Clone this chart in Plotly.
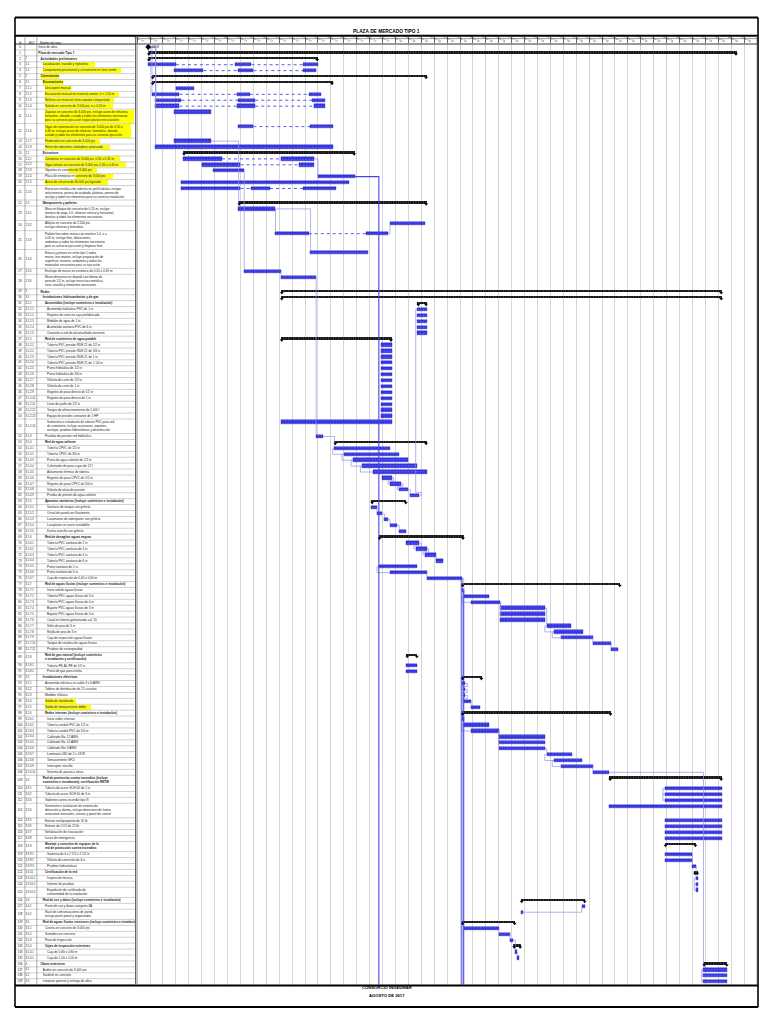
import math
import textwrap
import plotly.graph_objects as go

PAGE_W, PAGE_H = 768, 1024
BODY_MARGIN = 8  # default page margin of the html body
FIG_W, FIG_H = PAGE_W - 2 * BODY_MARGIN, PAGE_H - 2 * BODY_MARGIN

# ---------------- DATA ----------------
week_labels = [
    "20 ago '17", "27 ago '17", "03 sep '17", "10 sep '17", "17 sep '17", "24 sep '17",
    "01 oct '17", "08 oct '17", "15 oct '17", "22 oct '17", "29 oct '17", "05 nov '17",
    "12 nov '17", "19 nov '17", "26 nov '17", "03 dic '17", "10 dic '17", "17 dic '17",
    "24 dic '17", "31 dic '17", "07 ene '18", "14 ene '18", "21 ene '18", "28 ene '18",
    "04 feb '18", "11 feb '18", "18 feb '18", "25 feb '18", "04 mar '18", "11 mar '18",
    "18 mar '18", "25 mar '18", "01 abr '18", "08 abr '18", "15 abr '18", "22 abr '18",
    "29 abr '18", "06 may '18", "13 may '18", "20 may '18", "27 may '18", "03 jun '18",
    "10 jun '18", "17 jun '18", "24 jun '18", "01 jul '18", "08 jul '18", "15 jul '18",
]

wbs_codes = [
    "", "", "1", "1.1", "1.2", "2", "2.1", "2.1.1", "2.1.2", "2.1.3",
    "2.1.4", "2.1.5", "2.1.6", "2.1.7", "2.1.8", "2.2", "2.2.1", "2.2.2", "2.2.3", "2.2.4",
    "2.2.5", "2.2.6", "2.3", "2.3.1", "2.3.2", "2.3.3", "2.3.4", "2.3.5", "2.3.6", "3",
    "3.1", "3.1.1", "3.1.1.1", "3.1.1.2", "3.1.1.3", "3.1.1.4", "3.1.1.5", "3.1.2", "3.1.2.1", "3.1.2.2",
    "3.1.2.3", "3.1.2.4", "3.1.2.5", "3.1.2.6", "3.1.2.7", "3.1.2.8", "3.1.2.9", "3.1.2.10", "3.1.2.11", "3.1.2.12",
    "3.1.2.13", "3.1.2.14", "3.1.3", "3.1.4", "3.1.4.1", "3.1.4.2", "3.1.4.3", "3.1.4.4", "3.1.4.5", "3.1.4.6",
    "3.1.4.7", "3.1.4.8", "3.1.4.9", "3.1.5", "3.1.5.1", "3.1.5.2", "3.1.5.3", "3.1.5.4", "3.1.5.5", "3.1.6",
    "3.1.6.1", "3.1.6.2", "3.1.6.3", "3.1.6.4", "3.1.6.5", "3.1.6.6", "3.1.6.7", "3.1.7", "3.1.7.1", "3.1.7.2",
    "3.1.7.3", "3.1.7.4", "3.1.7.5", "3.1.7.6", "3.1.7.7", "3.1.7.8", "3.1.7.9", "3.1.7.10", "3.1.7.11", "3.1.8",
    "3.1.8.1", "3.1.8.2", "3.2", "3.2.1", "3.2.2", "3.2.3", "3.2.4", "3.2.5", "3.2.6", "3.2.6.1",
    "3.2.6.2", "3.2.6.3", "3.2.6.4", "3.2.6.5", "3.2.6.6", "3.2.6.7", "3.2.6.8", "3.2.6.9", "3.2.6.10", "3.3",
    "3.3.1", "3.3.2", "3.3.3", "3.3.4", "3.3.5", "3.3.6", "3.3.7", "3.3.8", "3.3.9", "3.3.9.1",
    "3.3.9.2", "3.3.9.3", "3.3.10", "3.3.10.1", "3.3.10.2", "3.3.10.3", "3.4", "3.4.1", "3.4.2", "3.5",
    "3.5.1", "3.5.2", "3.5.3", "3.5.4", "3.5.4.1", "3.5.4.2", "4", "4.1", "4.2", "4.3",
]

task_names = [
    "Inicio de obra",
    "Plaza de mercado Tipo 1",
    "Actividades preliminares",
    "Localización, trazado y replanteo",
    "Campamento provisional y cerramiento en lona verde",
    "Cimentación",
    "Excavaciones",
    "Descapote manual",
    "Excavación manual en material común, h < 1,50 m",
    "Relleno con material seleccionado compactado",
    "Solado en concreto de 2.000 psi, e = 0,05 m",
    "Zapatas en concreto de 3.000 psi, incluye acero de refuerzo, formaleta, vibrado, curado y todos los elementos necesarios para su correcta ejecución según planos estructurales",
    "Vigas de cimentación en concreto de 3.000 psi de 0,30 x 0,40 m, incluye acero de refuerzo, formaleta, vibrado, curado y todos los elementos para su correcta ejecución",
    "Pedestales en concreto de 3.000 psi",
    "Retiro de sobrantes a botadero autorizado",
    "Estructura",
    "Columnas en concreto de 3.000 psi, 0,30 x 0,30 m",
    "Vigas aéreas en concreto de 3.000 psi, 0,30 x 0,40 m",
    "Viguetas en concreto de 3.000 psi",
    "Placa de entrepiso en concreto de 3.000 psi",
    "Acero de refuerzo de 60.000 psi figurado",
    "Estructura metálica de cubierta en perfil tubular, incluye anticorrosivo, pintura de acabado, platinas, pernos de anclaje y todos los elementos para su correcta instalación",
    "Mampostería y pañetes",
    "Muro en bloque de concreto de 0,15 m, incluye mortero de pega 1:4, refuerzo vertical y horizontal, dovelas y todos los elementos necesarios",
    "Alfajías en concreto de 2.500 psi, incluye refuerzo y formaleta",
    "Pañete liso sobre muros con mortero 1:4, e = 0,02 m, incluye filos, dilataciones, andamios y todos los elementos necesarios para su correcta ejecución y limpieza final",
    "Estuco y pintura en vinilo tipo 1 sobre muros, tres manos, incluye preparación de superficie, resanes, andamios y todos los materiales necesarios para su ejecución",
    "Enchape de muros en cerámica de 0,20 x 0,30 m",
    "Muros divisorios en drywall con lámina de yeso de 1/2 in, incluye estructura metálica, cinta, masilla y elementos necesarios",
    "Redes",
    "Instalaciones hidrosanitarias y de gas",
    "Acometidas (incluye suministro e instalación)",
    "Acometida hidráulica PVC de 1 in",
    "Registro de corte en caja prefabricada",
    "Medidor de agua de 1 in",
    "Acometida sanitaria PVC de 6 in",
    "Conexión a red de alcantarillado existente",
    "Red de suministro de agua potable",
    "Tubería PVC presión RDE 21 de 1/2 in",
    "Tubería PVC presión RDE 21 de 3/4 in",
    "Tubería PVC presión RDE 21 de 1 in",
    "Tubería PVC presión RDE 21 de 1 1/4 in",
    "Punto hidráulico de 1/2 in",
    "Punto hidráulico de 3/4 in",
    "Válvula de corte de 1/2 in",
    "Válvula de corte de 1 in",
    "Registro de paso directo de 1/2 in",
    "Registro de paso directo de 1 in",
    "Llave de jardín de 1/2 in",
    "Tanque de almacenamiento de 1.000 l",
    "Equipo de presión constante de 1 HP",
    "Suministro e instalación de tubería PVC para red de suministro, incluye accesorios, soportes, anclajes, pruebas hidrostáticas y desinfección",
    "Pruebas de presión red hidráulica",
    "Red de agua caliente",
    "Tubería CPVC de 1/2 in",
    "Tubería CPVC de 3/4 in",
    "Punto de agua caliente de 1/2 in",
    "Calentador de paso a gas de 12 l",
    "Aislamiento térmico de tubería",
    "Registro de paso CPVC de 1/2 in",
    "Registro de paso CPVC de 3/4 in",
    "Válvula de alivio de presión",
    "Prueba de presión de agua caliente",
    "Aparatos sanitarios (incluye suministro e instalación)",
    "Sanitario de tanque con grifería",
    "Orinal de pared con fluxómetro",
    "Lavamanos de sobreponer con grifería",
    "Lavaplatos en acero inoxidable",
    "Ducha sencilla con grifería",
    "Red de desagües aguas negras",
    "Tubería PVC sanitaria de 2 in",
    "Tubería PVC sanitaria de 3 in",
    "Tubería PVC sanitaria de 4 in",
    "Tubería PVC sanitaria de 6 in",
    "Punto sanitario de 2 in",
    "Punto sanitario de 4 in",
    "Caja de inspección de 0,60 x 0,60 m",
    "Red de aguas lluvias (incluye suministro e instalación)",
    "Inicio red de aguas lluvias",
    "Tubería PVC aguas lluvias de 3 in",
    "Tubería PVC aguas lluvias de 4 in",
    "Bajante PVC aguas lluvias de 3 in",
    "Bajante PVC aguas lluvias de 4 in",
    "Canal en lámina galvanizada cal. 20",
    "Sifón de piso de 3 in",
    "Rejilla de piso de 3 in",
    "Caja de inspección aguas lluvias",
    "Tanque de recolección aguas lluvias",
    "Pruebas de estanqueidad",
    "Red de gas natural (incluye suministro e instalación y certificación)",
    "Tubería PE-AL-PE de 1/2 in",
    "Punto de gas para estufa",
    "Instalaciones eléctricas",
    "Acometida eléctrica en cable 3 x 6 AWG",
    "Tablero de distribución de 12 circuitos",
    "Medidor trifásico",
    "Salida de alumbrado",
    "Salida de tomacorriente doble",
    "Redes internas (incluye suministro e instalación)",
    "Inicio redes internas",
    "Tubería conduit PVC de 1/2 in",
    "Tubería conduit PVC de 3/4 in",
    "Cableado No. 12 AWG",
    "Cableado No. 10 AWG",
    "Cableado No. 8 AWG",
    "Luminaria LED de 2 x 18 W",
    "Tomacorriente GFCI",
    "Interruptor sencillo",
    "Sistema de puesta a tierra",
    "Red de protección contra incendios (incluye suministro e instalación), certificación RETIE",
    "Tubería de acero SCH 40 de 2 in",
    "Tubería de acero SCH 40 de 3 in",
    "Gabinete contra incendio tipo III",
    "Suministro e instalación de sistema de detección y alarma, incluye detectores de humo, estaciones manuales, sirenas y panel de control",
    "Extintor multipropósito de 20 lb",
    "Extintor de CO2 de 15 lb",
    "Señalización de evacuación",
    "Luces de emergencia",
    "Montaje y conexión de equipos de la red de protección contra incendios",
    "Siamesa de 4 x 2 1/2 x 2 1/2 in",
    "Válvula de retención de 4 in",
    "Pruebas hidrostáticas",
    "Certificación de la red",
    "Inspección técnica",
    "Informe de pruebas",
    "Expedición de certificado de conformidad de la instalación",
    "Red de voz y datos (incluye suministro e instalación)",
    "Punto de voz y datos categoría 6A",
    "Rack de comunicaciones de pared, incluye patch panel y organizador",
    "Red de aguas lluvias exteriores (incluye suministro e instalación)",
    "Cuneta en concreto de 3.000 psi",
    "Sumidero en concreto",
    "Pozo de inspección",
    "Cajas de inspección exteriores",
    "Caja de 0,80 x 0,80 m",
    "Caja de 1,00 x 1,00 m",
    "Obras exteriores",
    "Andén en concreto de 3.000 psi",
    "Sardinel en concreto",
    "Limpieza general y entrega de obra",
]

# start / finish in days from 20 ago 2017
task_start = [
    6, 6, 6, 6, 20, 8, 8, 21, 8, 10,
    10, 20, 55, 20, 10, 25, 25, 35, 41, 98,
    24, 24, 55, 55, 137, 75, 94, 58, 78, 78,
    78, 152, 152, 152, 152, 152, 152, 78, 132, 132,
    132, 132, 132, 132, 132, 132, 132, 132, 132, 132,
    132, 78, 97, 107, 107, 112, 117, 122, 128, 133,
    137, 142, 148, 127, 127, 130, 134, 137, 142, 131,
    146, 151, 156, 162, 131, 137, 157, 176, 176, 177,
    181, 197, 197, 197, 222, 226, 230, 247, 257, 146,
    146, 146, 176, 176, 177, 177, 177, 181, 176, 176,
    177, 181, 196, 196, 196, 222, 226, 230, 247, 256,
    286, 286, 286, 256, 286, 286, 286, 286, 286, 286,
    286, 301, 302, 303, 303, 303, 208, 241, 208, 176,
    177, 196, 202, 204, 205, 206, 307, 307, 307, 307,
]
task_finish = [
    6, 325, 98, 98, 97, 157, 106, 31, 100, 102,
    102, 40, 106, 40, 106, 118, 96, 96, 58, 118,
    115, 108, 157, 75, 156, 136, 125, 78, 97, 317,
    317, 157, 157, 157, 157, 157, 157, 138, 138, 138,
    138, 138, 138, 138, 138, 138, 138, 138, 138, 138,
    138, 138, 101, 157, 137, 142, 147, 152, 157, 138,
    143, 147, 153, 146, 130, 133, 136, 141, 146, 177,
    153, 157, 162, 166, 152, 157, 176, 262, 177, 191,
    197, 221, 221, 221, 235, 242, 247, 257, 261, 152,
    152, 152, 187, 178, 178, 178, 181, 186, 257, 177,
    191, 196, 221, 221, 221, 236, 241, 247, 256, 317,
    317, 317, 317, 317, 317, 317, 317, 317, 303, 301,
    301, 303, 304, 304, 304, 304, 243, 243, 209, 205,
    196, 202, 204, 208, 206, 207, 320, 320, 320, 320,
]

split_segments = {
    3: [[6, 21], [53, 62], [90, 98]],
    4: [[20, 36], [55, 63], [90, 97]],
    8: [[8, 23], [54, 61], [93, 100]],
    9: [[10, 24], [55, 64], [95, 102]],
    10: [[10, 23], [54, 64], [96, 102]],
    12: [[55, 63], [94, 106]],
    16: [[25, 46], [78, 96]],
    17: [[35, 56], [88, 96]],
    21: [[24, 56], [62, 72], [90, 108]],
    25: [[75, 93], [124, 136]],
}

summary_rows = [1, 2, 5, 6, 15, 22, 29, 30, 31, 37, 53, 63, 69, 77, 89, 92, 98,
                109, 118, 122, 126, 129, 133, 136]
milestone_rows = [0]
multi_line_rows = {11: 3, 12: 3, 21: 3, 23: 3, 24: 2, 25: 4, 26: 4, 28: 3, 51: 3,
                   89: 2, 109: 2, 113: 3, 118: 2, 125: 2, 128: 2}
highlight_rows = {3: 1, 4: 1, 5: 1, 6: 1, 7: 1, 8: 1, 9: 1, 10: 1, 11: 1, 12: 1,
                  13: 1, 14: 1, 16: 1, 17: 1, 18: 0.5, 19: 0.5, 20: 1, 96: 1, 97: 1}

fs_links = [(0, 3), (0, 8), (0, 9), (0, 10), (0, 14), (13, 23), (16, 19), (18, 27),
            (23, 25), (23, 26), (25, 24), (27, 28), (28, 52), (52, 54), (62, 32),
            (59, 60), (60, 61), (61, 62), (64, 65), (65, 66), (66, 67), (67, 68),
            (70, 71), (71, 72), (72, 73), (75, 76), (76, 79), (78, 79), (80, 81), (80, 82),
            (80, 83), (81, 84), (86, 87), (87, 88), (93, 94), (94, 95), (95, 96), (96, 97),
            (99, 100), (101, 102), (101, 103), (101, 104), (104, 105), (107, 108),
            (108, 137), (119, 121), (121, 123), (128, 127), (130, 131), (131, 132),
            (132, 134), (134, 135)]
ss_links = [(54, 55), (55, 56), (56, 57), (57, 58), (74, 75), (79, 80), (84, 85),
            (85, 86), (100, 101), (105, 106), (106, 107), (123, 124), (124, 125),
            (110, 111), (111, 112), (137, 138), (138, 139)]
offpage_links = [(19, 131), (76, 176), (78, 177)]

# ---------------- LAYOUT HELPERS ----------------
BASE_H, EXTRA_H = 5.92, 4.3
TOP_PX = 44.0
X_TABLE0, X_TABLE1 = 10, 131
X_GANTT0, X_GANTT1 = 133, 757
N_DAYS = 7 * len(week_labels)

n = len(task_names)
row_lines = [multi_line_rows.get(i, 1) for i in range(n)]
row_h = [BASE_H + (L - 1) * EXTRA_H for L in row_lines]
row_top = []
acc = 0.0
for h in row_h:
    row_top.append(acc)
    acc += h
TOTAL_H = acc
row_mid = [row_top[i] + row_h[i] / 2 for i in range(n)]
bar_y = [row_top[i] + BASE_H / 2 for i in range(n)]


def py(ypx):
    return 1 - (ypx - BODY_MARGIN) / FIG_H


def pxx(xpx):
    return (xpx - BODY_MARGIN) / FIG_W


levels = [0 if c == "" else c.count(".") + 1 for c in wbs_codes]
NAME_FS = 3.1
CW = 0.5 * NAME_FS


def wrap(name, L):
    if L == 1:
        return [name]
    w = math.ceil(len(name) / L) + 2
    while True:
        parts = textwrap.wrap(name, w)
        if len(parts) <= L:
            return parts
        w += 1


wrapped = [wrap(task_names[i], row_lines[i]) for i in range(n)]
name_x = [33.5 + 2.2 * levels[i] for i in range(n)]

fig = go.Figure()

# ---- table: highlights ----
hl_base, hl_w, hl_y, hl_h = [], [], [], []
for i, frac in highlight_rows.items():
    w = min(max(len(s) for s in wrapped[i]) * CW + 1.5, X_TABLE1 - name_x[i] - 1)
    start = name_x[i] + (1 - frac) * w * 0.9
    hl_base.append(start)
    hl_w.append(name_x[i] + w - start)
    hl_y.append(row_mid[i])
    hl_h.append(row_h[i] - 1.0)
fig.add_trace(go.Bar(orientation="h", base=hl_base, x=hl_w, y=hl_y, width=hl_h,
                     marker=dict(color="#ffff00", line=dict(width=0)),
                     xaxis="x2", yaxis="y", hoverinfo="skip", showlegend=False))

# ---- table: row lines ----
lx, ly = [], []
for i in range(n + 1):
    yy = row_top[i] if i < n else TOTAL_H
    lx += [X_TABLE0, X_TABLE1, None]
    ly += [yy, yy, None]
fig.add_trace(go.Scatter(x=lx, y=ly, mode="lines", line=dict(color="#a0a0a0", width=0.5),
                         xaxis="x2", yaxis="y", hoverinfo="skip", showlegend=False))

# ---- table: texts ----
name_text = []
for i in range(n):
    parts = wrapped[i]
    if i in summary_rows:
        parts = ["<b>" + p + "</b>" for p in parts]
    name_text.append("<br>".join(parts))
fig.add_trace(go.Scatter(x=name_x, y=row_mid, text=name_text, mode="text",
                         textposition="middle right",
                         textfont=dict(size=NAME_FS, color="#222", family="Liberation Sans, Arial"),
                         xaxis="x2", yaxis="y", hoverinfo="skip", showlegend=False))
fig.add_trace(go.Scatter(x=[15] * n, y=row_mid, text=[str(i) for i in range(n)], mode="text",
                         textposition="middle center",
                         textfont=dict(size=2.9, color="#222", family="Liberation Sans, Arial"),
                         xaxis="x2", yaxis="y", hoverinfo="skip", showlegend=False))
fig.add_trace(go.Scatter(x=[20.6] * n, y=row_mid, text=wbs_codes, mode="text",
                         textposition="middle right",
                         textfont=dict(size=2.7, color="#222", family="Liberation Sans, Arial"),
                         xaxis="x2", yaxis="y", hoverinfo="skip", showlegend=False))

# ---- gantt: links ----
link_x, link_y = [], []
for p, s in fs_links:
    pe, ss_ = task_finish[p], task_start[s]
    yp, ys = bar_y[p], bar_y[s]
    sgn = 1 if ys > yp else -1
    if ss_ >= pe:
        pts = [(pe, yp), (ss_, yp), (ss_, ys - sgn * 1.6)]
    else:
        mid = yp + sgn * 3
        pts = [(pe, yp), (pe + 1, yp), (pe + 1, mid), (ss_ - 1, mid), (ss_ - 1, ys), (ss_, ys)]
    for a, b in pts:
        link_x.append(a)
        link_y.append(b)
    link_x.append(None)
    link_y.append(None)
for p, s in ss_links:
    ps, ss_ = task_start[p], task_start[s]
    xl = min(ps, ss_) - 1
    for a, b in [(ps, bar_y[p]), (xl, bar_y[p]), (xl, bar_y[s]), (ss_, bar_y[s])]:
        link_x.append(a)
        link_y.append(b)
    link_x.append(None)
    link_y.append(None)
fig.add_trace(go.Scatter(x=link_x, y=link_y, mode="lines",
                         line=dict(color="#8f8ff2", width=0.7),
                         hoverinfo="skip", showlegend=False))

off_x, off_y = [], []
for p, xd in offpage_links:
    for a, b in [(task_finish[p], bar_y[p]), (xd, bar_y[p]), (xd, TOTAL_H + 20)]:
        off_x.append(a)
        off_y.append(b)
    off_x.append(None)
    off_y.append(None)
fig.add_trace(go.Scatter(x=off_x, y=off_y, mode="lines",
                         line=dict(color="#4646e8", width=1.1),
                         hoverinfo="skip", showlegend=False))

# ---- gantt: split connectors ----
dx, dy = [], []
for i, segs in split_segments.items():
    for k in range(len(segs) - 1):
        dx += [segs[k][1], segs[k + 1][0], None]
        dy += [bar_y[i], bar_y[i], None]
fig.add_trace(go.Scatter(x=dx, y=dy, mode="lines",
                         line=dict(color="#5a5af0", width=1.0, dash="dot"),
                         hoverinfo="skip", showlegend=False))

# ---- gantt: task bars ----
tb, tw, ty = [], [], []
for i in range(n):
    if i in summary_rows or i in milestone_rows:
        continue
    segs = split_segments.get(i, [[task_start[i], task_finish[i]]])
    for a, b in segs:
        tb.append(a)
        tw.append(max(b - a, 0.8))
        ty.append(bar_y[i])
fig.add_trace(go.Bar(orientation="h", base=tb, x=tw, y=ty, width=3.4,
                     marker=dict(color="#3434e6", line=dict(color="#1a1aa8", width=0.4),
                                 pattern=dict(shape=".", fgcolor="#8080ff", size=3, solidity=0.25)),
                     hoverinfo="skip", showlegend=False))

# ---- gantt: summary bars ----
sb, sw, sy = [], [], []
cap_x, cap_y = [], []
for i in summary_rows:
    sb.append(task_start[i])
    sw.append(max(task_finish[i] - task_start[i], 1))
    sy.append(bar_y[i] - 0.3)
    cap_x += [task_start[i] + 0.4, task_finish[i] - 0.4]
    cap_y += [bar_y[i] + 1.1, bar_y[i] + 1.1]
fig.add_trace(go.Bar(orientation="h", base=sb, x=sw, y=sy, width=1.9,
                     marker=dict(color="#111111", line=dict(width=0),
                                 pattern=dict(shape="|", fgcolor="#777777", size=2.5, solidity=0.3)),
                     hoverinfo="skip", showlegend=False))
fig.add_trace(go.Scatter(x=cap_x, y=cap_y, mode="markers",
                         marker=dict(symbol="triangle-down", size=3.4, color="#000"),
                         hoverinfo="skip", showlegend=False))

# ---- milestone ----
fig.add_trace(go.Scatter(x=[task_start[i] for i in milestone_rows],
                         y=[bar_y[i] for i in milestone_rows],
                         mode="markers+text", text=["20/08"],
                         textposition="middle right",
                         textfont=dict(size=2.6, color="#222"),
                         marker=dict(symbol="diamond", size=4.5, color="#000"),
                         hoverinfo="skip", showlegend=False))

# ---------------- AXES ----------------
y_dom = [py(TOP_PX + TOTAL_H), py(TOP_PX)]
fig.update_layout(
    width=FIG_W, height=FIG_H,
    margin=dict(l=0, r=0, t=0, b=0),
    paper_bgcolor="white", plot_bgcolor="white",
    barmode="overlay", bargap=0,
    showlegend=False,
    xaxis=dict(domain=[pxx(X_GANTT0), pxx(X_GANTT1)], range=[0, N_DAYS],
               side="top", anchor="y",
               tickmode="array", tickvals=[7 * k + 3.5 for k in range(len(week_labels))],
               ticktext=week_labels, tickfont=dict(size=2.6, color="#222", family="Liberation Sans, Arial"),
               ticks="", showgrid=False, zeroline=False, showline=False,
               minor=dict(tickmode="linear", tick0=0, dtick=7, showgrid=True,
                          gridcolor="#d6d6d6", gridwidth=1,
                          ticks="outside", ticklen=6, tickcolor="#666", tickwidth=0.6),
               fixedrange=True),
    xaxis2=dict(domain=[pxx(X_TABLE0), pxx(X_TABLE1)], range=[X_TABLE0, X_TABLE1],
                anchor="y", showgrid=False, zeroline=False, showticklabels=False,
                ticks="", showline=False, fixedrange=True),
    yaxis=dict(domain=y_dom, range=[TOTAL_H, 0], showgrid=False, zeroline=False,
               showticklabels=False, ticks="", showline=False, fixedrange=True),
)

# ---------------- FRAME / HEADER (styling) ----------------
shapes = []


def hline(y, x0, x1, w=1, c="#000"):
    shapes.append(dict(type="line", xref="paper", yref="paper", x0=pxx(x0), x1=pxx(x1),
                       y0=py(y), y1=py(y), line=dict(color=c, width=w)))


def vline(x, y0, y1, w=1, c="#000"):
    shapes.append(dict(type="line", xref="paper", yref="paper", x0=pxx(x), x1=pxx(x),
                       y0=py(y0), y1=py(y1), line=dict(color=c, width=w)))


bottom = TOP_PX + TOTAL_H
hline(17.5, 10, 758, 2.2)
hline(35.8, 10, 758, 2.0)
hline(38.6, X_GANTT0, 758, 0.6, "#555")
hline(TOP_PX, 10, 758, 0.8)
hline(985.5, 10, 758, 2.2)
hline(1007, 10, 758, 2.2)
vline(10, 17.5, 1007, 1.6)
vline(758, 17.5, 1007, 1.6)
vline(20, 35.8, bottom, 0.6, "#777")
vline(32, 35.8, bottom, 0.6, "#777")
vline(131.5, 35.8, bottom, 0.9, "#333")
vline(X_GANTT0, 35.8, bottom, 0.6, "#666")
vline(757, 35.8, bottom, 0.6, "#666")
fig.update_layout(shapes=shapes)

TITLE_FONT = "Liberation Sans Narrow, Arial Narrow, Liberation Sans"
ann = []
ann.append(dict(text="<b>PLAZA DE MERCADO TIPO 1</b>", x=pxx(384), y=py(26.5), xref="paper", yref="paper",
                showarrow=False, font=dict(size=4.8, family=TITLE_FONT, color="#000")))
ann.append(dict(text="<b>CONSORCIO INGEDMAR</b>", x=pxx(384), y=py(991.5), xref="paper", yref="paper",
                showarrow=False, font=dict(size=4.2, family=TITLE_FONT, color="#000")))
ann.append(dict(text="<b>AGOSTO DE 2017</b>", x=pxx(384), y=py(999.5), xref="paper", yref="paper",
                showarrow=False, font=dict(size=4.2, family=TITLE_FONT, color="#000")))
for txt, xx in [("Id", 12.5), ("EDT", 22.5), ("Nombre de tarea", 33.5)]:
    ann.append(dict(text=txt, x=pxx(xx), y=py(38.6), xref="paper", yref="paper", xanchor="left",
                    showarrow=False, font=dict(size=2.8, family="Liberation Sans, Arial", color="#111")))
fig.update_layout(annotations=ann)

fig.write_html("out.html")
